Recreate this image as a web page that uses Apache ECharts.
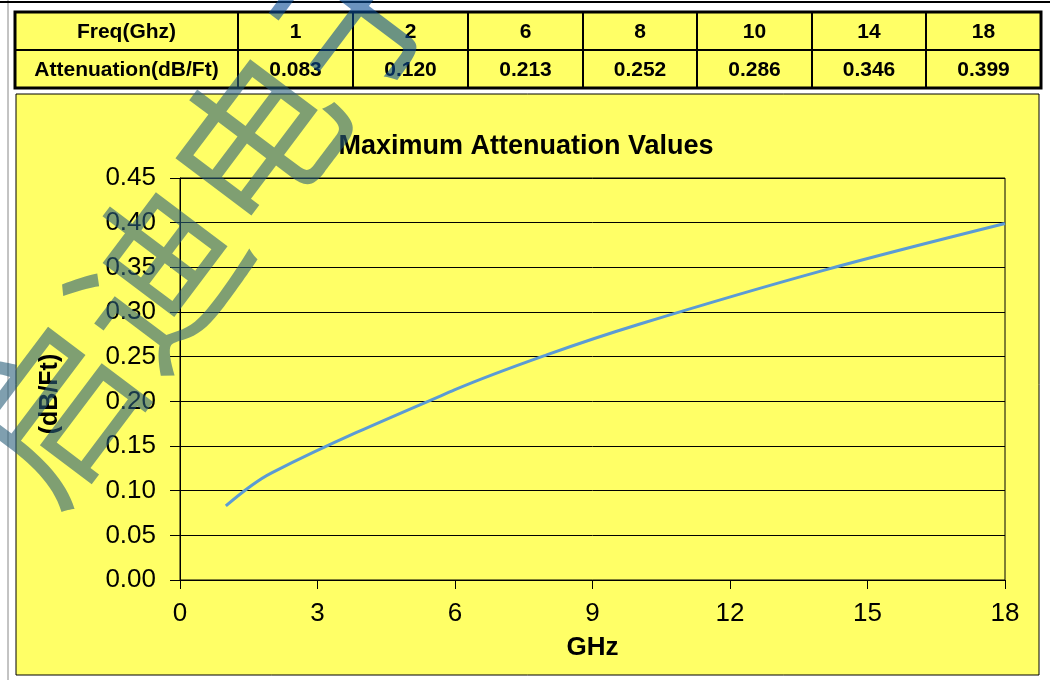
<!DOCTYPE html>
<html>
<head>
<meta charset="utf-8">
<script src="https://cdn.jsdelivr.net/npm/echarts@6/dist/echarts.min.js"></script>
<style>
html,body{margin:0;padding:0;background:#fff;}
#c{width:1050px;height:680px;}
</style>
</head>
<body>
<div id="c"></div>
<script>
// ---- data ----
const freqs = [1, 2, 6, 8, 10, 14, 18];
const attens = [0.083, 0.120, 0.213, 0.252, 0.286, 0.346, 0.399];
const tableHeaders = ['Freq(Ghz)', 'Attenuation(dB/Ft)'];
const attenLabels = ['0.083', '0.120', '0.213', '0.252', '0.286', '0.346', '0.399'];
const titleText = 'Maximum Attenuation Values';
const xName = 'GHz';
const yName = '(dB/Ft)';
const watermarkText = ['启迪电', '子'];

const chart = echarts.init(document.getElementById('c'), null, {renderer: 'canvas'});
const FONT = '"Liberation Sans", Arial, sans-serif';
const YELLOW = '#ffff66';

// table geometry
const colEdges = [15, 238, 353, 468, 583, 697, 812, 926, 1041];
const rowEdges = [12, 50, 88];
const graphics = [];

// chart box
graphics.push({type: 'rect', z: -10, shape: {x: 16, y: 94, width: 1023, height: 581},
  style: {fill: YELLOW, stroke: '#000', lineWidth: 1}});
// spreadsheet-like left line
graphics.push({type: 'line', z: -10, shape: {x1: 8, y1: 0, x2: 8, y2: 680}, style: {stroke: '#888', lineWidth: 1}});
graphics.push({type: 'line', z: -10, shape: {x1: 0, y1: 2, x2: 1050, y2: 2}, style: {stroke: '#000', lineWidth: 2}});

// table cells
const rows = [
  [tableHeaders[0]].concat(freqs.map(String)),
  [tableHeaders[1]].concat(attenLabels)
];
for (let r = 0; r < 2; r++) {
  for (let c = 0; c < colEdges.length - 1; c++) {
    const x = colEdges[c], y = rowEdges[r];
    const w = colEdges[c + 1] - x, h = rowEdges[r + 1] - y;
    graphics.push({type: 'rect', z: -5, shape: {x: x, y: y, width: w, height: h},
      style: {fill: YELLOW, stroke: '#000', lineWidth: 2}});
    graphics.push({type: 'text', z: -4, x: x + w / 2, y: y + h / 2 + 1,
      style: {text: rows[r][c], fill: '#000', font: 'bold 21px ' + FONT,
        textAlign: 'center', textVerticalAlign: 'middle'}});
  }
}
graphics.push({type: 'rect', z: -3, shape: {x: colEdges[0], y: rowEdges[0], width: colEdges[8] - colEdges[0], height: rowEdges[2] - rowEdges[0]},
  style: {fill: 'none', stroke: '#000', lineWidth: 3}});

// y axis name
graphics.push({type: 'text', z: 5, x: 50, y: 394, rotation: Math.PI / 2,
  style: {text: yName, fill: '#000', font: 'bold 25px ' + FONT, textAlign: 'center', textVerticalAlign: 'middle'}});

// watermark
const GREEN_WM = 'rgba(42,95,122,0.6)';
const BLUE_WM = 'rgba(8,75,148,0.6)';
graphics.push({type: 'text', z: 100, x: 205, y: 207, rotation: 53 * Math.PI / 180,
  style: {
    text: '{g|' + watermarkText[0] + '}{b|' + watermarkText[1] + '}',
    textAlign: 'center', textVerticalAlign: 'middle',
    rich: {
      g: {fontSize: 168, fontWeight: 'normal', fontFamily: '"Noto Sans CJK SC"', fill: GREEN_WM, color: GREEN_WM},
      b: {fontSize: 168, fontWeight: 'normal', fontFamily: '"Noto Sans CJK SC"', fill: BLUE_WM, color: BLUE_WM}
    }
  }});

chart.setOption({
  animation: false,
  backgroundColor: '#fff',
  title: {
    text: titleText, left: 521, top: 128, textAlign: 'center',
    textStyle: {fontFamily: FONT, fontSize: 27, fontWeight: 'bold', color: '#000'}
  },
  grid: {left: 180, right: 45, top: 178, bottom: 100, show: true, borderColor: '#000', borderWidth: 1, backgroundColor: 'transparent'},
  xAxis: {
    type: 'value', min: 0, max: 18, interval: 3,
    name: xName, nameLocation: 'middle', nameGap: 55,
    nameTextStyle: {fontFamily: FONT, fontSize: 26, fontWeight: 'bold', color: '#000'},
    axisLine: {show: true, lineStyle: {color: '#000', width: 1}},
    axisTick: {show: true, inside: false, length: 9, lineStyle: {color: '#000'}},
    axisLabel: {fontFamily: FONT, fontSize: 26, color: '#000', margin: 21},
    splitLine: {show: false}
  },
  yAxis: {
    type: 'value', min: 0, max: 0.45, interval: 0.05,
    axisLine: {show: true, lineStyle: {color: '#000', width: 1}},
    axisTick: {show: true, inside: false, length: 10, lineStyle: {color: '#000'}},
    axisLabel: {fontFamily: FONT, fontSize: 26, color: '#000', margin: 24, formatter: v => v.toFixed(2)},
    splitLine: {show: true, lineStyle: {color: '#000', width: 1}}
  },
  series: [{
    type: 'line',
    data: freqs.map((f, i) => [f, attens[i]]),
    smooth: 0.35,
    showSymbol: false,
    lineStyle: {color: '#5b9bd5', width: 3}
  }],
  graphic: graphics
});
</script>
</body>
</html>
